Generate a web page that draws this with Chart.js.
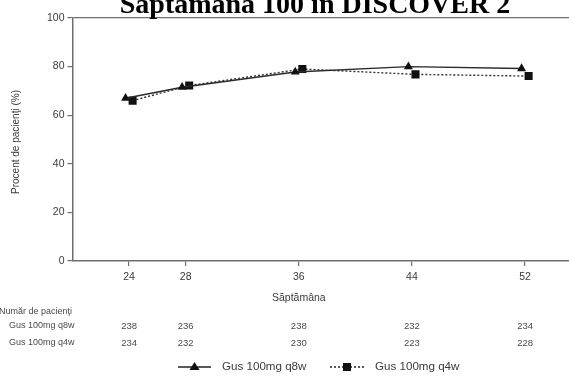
<!DOCTYPE html>
<html>
<head>
<meta charset="utf-8">
<script src="https://cdn.jsdelivr.net/npm/chart.js@4.4.1/dist/chart.umd.min.js"></script>
<style>
html,body{margin:0;padding:0;background:#fff;overflow:hidden;}
#wrap{position:relative;width:569px;height:387px;overflow:hidden;}
</style>
</head>
<body>
<div id="wrap"><canvas id="c" width="610" height="387"></canvas></div>
<script>
const titleText = "Săptămâna 100 în DISCOVER 2";
const weeks = [24, 28, 36, 44, 52];
const seriesNames = ["Gus 100mg q8w", "Gus 100mg q4w"];
const q8wValues = [67, 71.5, 77.8, 80, 79.2];
const q4wValues = [66, 72.2, 79, 76.8, 76.1];
const q8wCounts = [238, 236, 238, 232, 234];
const q4wCounts = [234, 232, 230, 223, 228];
const yTicks = [0, 20, 40, 60, 80, 100];
const xAxisTitle = "Săptămâna";
const yAxisTitle = "Procent de pacienţi (%)";
const tableHeader = "Număr de pacienţi";

const OFF = 0.25;
const sans = "'Liberation Sans', Arial, sans-serif";
const axisCol = '#6e6e6e';
const textCol = '#3a3a3a';

const extras = {
  id: 'extras',
  afterDraw(chart) {
    const ctx = chart.ctx;
    const xs = chart.scales.x;
    ctx.save();
    // main title (clipped at top)
    ctx.fillStyle = '#000';
    ctx.font = "bold 28px 'Liberation Serif', 'Times New Roman', serif";
    ctx.textAlign = 'center';
    ctx.textBaseline = 'alphabetic';
    ctx.fillText(titleText, 315, 12.5);
    // y axis title
    ctx.fillStyle = textCol;
    ctx.font = "10px " + sans;
    ctx.save();
    ctx.translate(16, 142);
    ctx.rotate(-Math.PI / 2);
    ctx.textAlign = 'center';
    ctx.textBaseline = 'middle';
    ctx.fillText(yAxisTitle, 0, 0);
    ctx.restore();
    // x axis title
    ctx.font = "10.5px " + sans;
    ctx.textAlign = 'center';
    ctx.textBaseline = 'middle';
    ctx.fillText(xAxisTitle, xs.getPixelForValue(36), 298);
    // table
    ctx.font = "9px " + sans;
    ctx.fillStyle = '#4a4a4a';
    ctx.textAlign = 'left';
    ctx.fillText(tableHeader, -1, 312);
    ctx.fillText(seriesNames[0], 9, 326);
    ctx.fillText(seriesNames[1], 9, 343);
    ctx.textAlign = 'center';
    ctx.font = "9.5px " + sans;
    weeks.forEach((w, i) => {
      const px = xs.getPixelForValue(w);
      ctx.fillText(String(q8wCounts[i]), px, 326);
      ctx.fillText(String(q4wCounts[i]), px, 343);
    });
    // legend
    const ly = 367;
    ctx.strokeStyle = '#222';
    ctx.fillStyle = '#111';
    ctx.lineWidth = 1.3;
    ctx.setLineDash([]);
    ctx.beginPath(); ctx.moveTo(178, ly); ctx.lineTo(211, ly); ctx.stroke();
    ctx.beginPath();
    ctx.moveTo(194.5, ly - 5); ctx.lineTo(199.5, ly + 3); ctx.lineTo(189.5, ly + 3); ctx.closePath(); ctx.fill();
    ctx.setLineDash([2, 2]);
    ctx.beginPath(); ctx.moveTo(330, ly); ctx.lineTo(364, ly); ctx.stroke();
    ctx.setLineDash([]);
    ctx.fillRect(343, ly - 4, 8, 8);
    ctx.fillStyle = textCol;
    ctx.font = "11.6px " + sans;
    ctx.textAlign = 'left';
    ctx.fillText(seriesNames[0], 222, ly);
    ctx.fillText(seriesNames[1], 375, ly);
    ctx.restore();
  }
};

new Chart(document.getElementById('c'), {
  type: 'scatter',
  data: {
    datasets: [
      {
        label: seriesNames[0],
        data: weeks.map((w, i) => ({ x: w - OFF, y: q8wValues[i] })),
        showLine: true,
        borderColor: '#2a2a2a',
        borderWidth: 1.4,
        pointStyle: 'triangle',
        pointRadius: 5.2,
        pointBackgroundColor: '#111',
        pointBorderColor: '#111',
        pointBorderWidth: 0,
        tension: 0
      },
      {
        label: seriesNames[1],
        data: weeks.map((w, i) => ({ x: w + OFF, y: q4wValues[i] })),
        showLine: true,
        borderColor: '#333',
        borderWidth: 1.4,
        borderDash: [2, 2],
        pointStyle: 'rect',
        pointRadius: 5.7,
        pointBackgroundColor: '#111',
        pointBorderColor: '#111',
        pointBorderWidth: 0,
        tension: 0
      }
    ]
  },
  options: {
    responsive: false,
    animation: false,
    events: [],
    layout: { padding: { left: 0, top: 18, right: 0, bottom: 0 } },
    plugins: { legend: { display: false }, tooltip: { enabled: false }, title: { display: false } },
    scales: {
      x: {
        type: 'linear',
        min: 20,
        max: 57.6,
        afterFit(s) { s.height = 387 - 261; },
        afterBuildTicks(s) { s.ticks = weeks.map(v => ({ value: v })); },
        border: { color: axisCol, width: 1.5 },
        grid: { drawOnChartArea: false, tickLength: 5, color: axisCol, tickColor: axisCol, lineWidth: 1.2 },
        ticks: { color: textCol, font: { family: sans, size: 10.5 }, padding: 5, maxRotation: 0, autoSkip: false }
      },
      y: {
        min: 0,
        max: 100,
        afterFit(s) { s.width = 72.5; },
        afterBuildTicks(s) { s.ticks = yTicks.map(v => ({ value: v })); },
        border: { color: axisCol, width: 1.5 },
        grid: {
          drawOnChartArea: true,
          tickLength: 5,
          lineWidth: 1.2,
          color: c => (c.tick && c.tick.value === 100 ? axisCol : 'rgba(0,0,0,0)'),
          tickColor: axisCol
        },
        ticks: { color: textCol, font: { family: sans, size: 10.5 }, padding: 3 }
      }
    }
  },
  plugins: [extras]
});
</script>
</body>
</html>
